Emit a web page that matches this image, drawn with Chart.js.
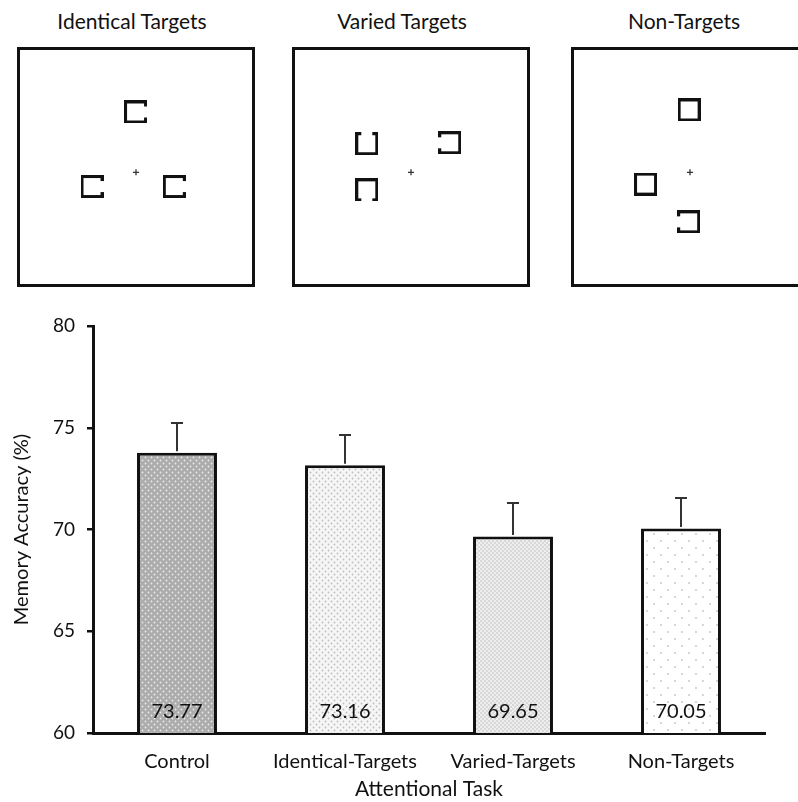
<!DOCTYPE html>
<html lang="en">
<head>
<meta charset="UTF-8">
<title>Memory accuracy by attentional task</title>
<script src="https://cdn.jsdelivr.net/npm/chart.js"></script>
<style>
    body {
        margin: 0;
        width: 798px;
        height: 802px;
        overflow: hidden;
        position: relative;
        background: #fff;
        font-family: Lato, sans-serif;
    }
    .panel-title {
        position: absolute;
        top: 8px;
        width: 240px;
        text-align: center;
        font-size: 21px;
        color: #111;
    }
    .panel {
        position: absolute;
        top: 47px;
        width: 238px;
        height: 240px;
        box-sizing: border-box;
        border: 3px solid #111;
    }
    .bars {
        position: absolute;
        left: 0;
        top: 300px;
        width: 798px;
        height: 502px;
    }
</style>
</head>
<body>

<div class="panel-title" style="left:12px">Identical Targets</div>
<div class="panel-title" style="left:282px">Varied Targets</div>
<div class="panel-title" style="left:564px">Non-Targets</div>

<div class="panel" style="left:17px"><canvas id="identicalPanel"></canvas></div>
<div class="panel" style="left:292px"><canvas id="variedPanel"></canvas></div>
<div class="panel" style="left:571px"><canvas id="nonPanel"></canvas></div>

<div class="bars"><canvas id="accuracyChart"></canvas></div>

<script>
    // bar chart data
    const tasks = ['Control', 'Identical-Targets', 'Varied-Targets', 'Non-Targets'];
    const accuracy = [73.77, 73.16, 69.65, 70.05];
    const errorUp = [1.46, 1.48, 1.65, 1.50];
    const yTicks = [60, 65, 70, 75, 80];

    // stimulus displays (0-100 display units, y down), gap = open side of the square
    const fixation = [50, 52.4];
    const identicalX = [49.8, 30.0, 67.4];
    const identicalY = [25.2, 58.8, 58.8];
    const identicalGap = ['right', 'right', 'right'];
    const variedX = [29.9, 67.6, 29.9];
    const variedY = [39.5, 39.1, 60.3];
    const variedGap = ['top', 'left', 'bottom'];
    const nonX = [49.6, 29.8, 49.4];
    const nonY = [24.3, 57.7, 74.7];
    const nonGap = ['none', 'none', 'left'];

    Chart.defaults.font.family = 'Lato, sans-serif';
    Chart.defaults.color = '#111';
    Chart.defaults.animation = false;

    // little square shapes used as point styles
    function makeShape(gap) {
        const c = document.createElement('canvas');
        c.width = 23;
        c.height = 23;
        const g = c.getContext('2d');
        g.strokeStyle = '#111';
        g.lineWidth = 3;
        g.strokeRect(1.5, 1.5, 20, 20);
        const s = 6, len = 11;
        if (gap === 'right') g.clearRect(18, s, 5, len);
        if (gap === 'left') g.clearRect(0, s, 5, len);
        if (gap === 'top') g.clearRect(s, 0, len, 5);
        if (gap === 'bottom') g.clearRect(s, 18, len, 5);
        return c;
    }
    const shapes = {};
    ['none', 'top', 'right', 'bottom', 'left'].forEach(function (k) { shapes[k] = makeShape(k); });

    function drawPanel(id, xs, ys, gaps) {
        new Chart(document.getElementById(id), {
            type: 'scatter',
            data: {
                datasets: [{
                    data: xs.map(function (x, i) { return {x: x, y: ys[i]}; }),
                    pointStyle: gaps.map(function (g) { return shapes[g]; }),
                    pointRadius: 5
                }, {
                    data: [{x: fixation[0], y: fixation[1]}],
                    pointStyle: 'cross',
                    pointRadius: 3,
                    borderWidth: 1.3,
                    borderColor: '#333'
                }]
            },
            options: {
                responsive: true,
                maintainAspectRatio: false,
                layout: {padding: 0},
                events: [],
                plugins: {legend: {display: false}, tooltip: {enabled: false}},
                scales: {
                    x: {display: false, min: 0, max: 100},
                    y: {display: false, min: 0, max: 100, reverse: true}
                }
            }
        });
    }
    drawPanel('identicalPanel', identicalX, identicalY, identicalGap);
    drawPanel('variedPanel', variedX, variedY, variedGap);
    drawPanel('nonPanel', nonX, nonY, nonGap);

    // fill patterns for the bars
    function dotPattern(bg, dot, size, spots, r) {
        const c = document.createElement('canvas');
        c.width = size;
        c.height = size;
        const g = c.getContext('2d');
        g.fillStyle = bg;
        g.fillRect(0, 0, size, size);
        g.fillStyle = dot;
        spots.forEach(function (p) {
            g.beginPath();
            g.arc(p[0], p[1], r, 0, Math.PI * 2);
            g.fill();
        });
        return g.createPattern(c, 'repeat');
    }
    function checkPattern(a, b) {
        const c = document.createElement('canvas');
        c.width = 4;
        c.height = 4;
        const g = c.getContext('2d');
        g.fillStyle = a;
        g.fillRect(0, 0, 4, 4);
        g.fillStyle = b;
        g.fillRect(0, 0, 2, 2);
        g.fillRect(2, 2, 2, 2);
        return g.createPattern(c, 'repeat');
    }
    const fills = [
        dotPattern('#acacac', 'rgba(255,255,255,0.75)', 6, [[1.5, 1.5], [4.5, 4.5]], 0.9),
        dotPattern('#f6f6f6', '#bdbdbd', 6, [[1.5, 1.5], [4.5, 4.5]], 0.9),
        checkPattern('#eeeeee', '#d8d8d8'),
        dotPattern('#ffffff', '#c4c4c4', 14, [[3, 3], [10, 10]], 0.9)
    ];

    const barExtras = {
        id: 'barExtras',
        afterDatasetsDraw(chart) {
            const ctx = chart.ctx;
            const y = chart.scales.y;
            const bars = chart.getDatasetMeta(0).data;
            ctx.save();
            bars.forEach(function (bar, i) {
                const top = y.getPixelForValue(accuracy[i]);
                const cap = y.getPixelForValue(accuracy[i] + errorUp[i]);
                ctx.strokeStyle = '#333';
                ctx.lineWidth = 2;
                ctx.beginPath();
                ctx.moveTo(bar.x, top - 1.5);
                ctx.lineTo(bar.x, cap);
                ctx.moveTo(bar.x - 6, cap);
                ctx.lineTo(bar.x + 6, cap);
                ctx.stroke();

                ctx.fillStyle = '#111';
                ctx.font = '20px Lato, sans-serif';
                ctx.textAlign = 'center';
                ctx.textBaseline = 'middle';
                ctx.fillText(accuracy[i].toFixed(2), bar.x, y.getPixelForValue(yTicks[0]) - 21);
            });
            ctx.restore();
        }
    };

    new Chart(document.getElementById('accuracyChart'), {
        type: 'bar',
        data: {
            labels: tasks,
            datasets: [{
                data: accuracy,
                backgroundColor: fills,
                borderColor: '#111',
                borderWidth: 3,
                borderSkipped: false,
                barPercentage: 0.476,
                categoryPercentage: 1
            }]
        },
        options: {
            responsive: true,
            maintainAspectRatio: false,
            events: [],
            layout: {padding: {top: 26, right: 33, left: 0, bottom: 0}},
            plugins: {legend: {display: false}, tooltip: {enabled: false}},
            scales: {
                x: {
                    grid: {display: false},
                    border: {display: true, color: '#111', width: 3},
                    ticks: {font: {size: 20}, color: '#111', padding: 9},
                    title: {display: true, text: 'Attentional Task', font: {size: 21}, color: '#111', padding: {top: 0, bottom: 0}},
                    afterFit: function (s) { s.height = 69; }
                },
                y: {
                    min: yTicks[0],
                    max: yTicks[yTicks.length - 1],
                    afterBuildTicks: function (s) { s.ticks = yTicks.map(function (v) { return {value: v}; }); },
                    grid: {drawOnChartArea: false, drawTicks: true, tickLength: 6, color: '#111', lineWidth: 2.5},
                    border: {display: true, color: '#111', width: 3},
                    ticks: {font: {size: 19}, color: '#111', padding: 12},
                    title: {display: true, text: 'Memory Accuracy (%)', font: {size: 20}, color: '#111', padding: {top: 10, bottom: 0}},
                    afterFit: function (s) { s.width = 93; }
                }
            }
        },
        plugins: [barExtras]
    });
</script>
</body>
</html>
